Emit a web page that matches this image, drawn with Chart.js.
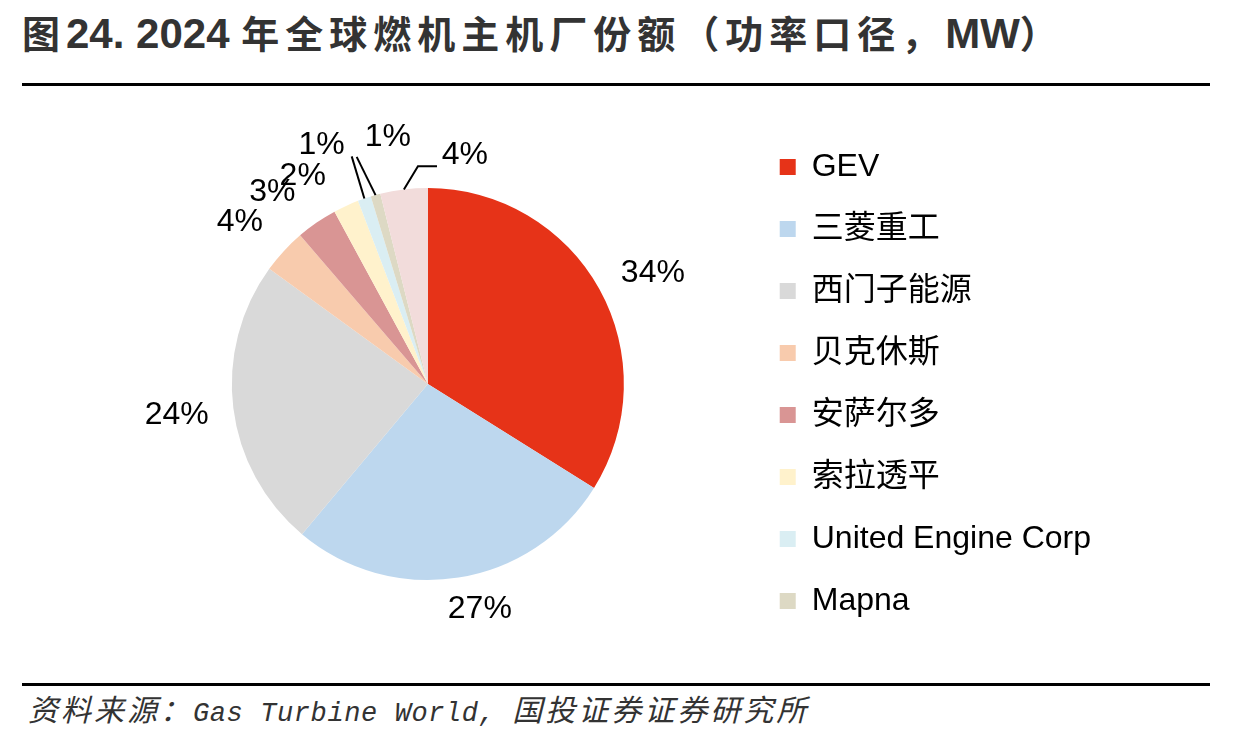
<!DOCTYPE html>
<html>
<head>
<meta charset="utf-8">
<script src="https://cdn.jsdelivr.net/npm/chart.js@4/dist/chart.umd.min.js"></script>
<style>
  body { margin: 0; background: #fff; }
  #page { position: relative; width: 1236px; height: 739px; overflow: hidden; }
  #title {
    position: absolute; left: 22px; top: 4px;
    color: #333; white-space: nowrap;
  }
  #title .cjk { font: bold 38px "Noto Sans CJK SC", sans-serif; letter-spacing: 6px; }
  #title .lat { font: bold 42px "Liberation Sans", sans-serif; }
  .rule { position: absolute; left: 22px; width: 1188px; height: 3px; background: #000; }
  #source {
    position: absolute; left: 28px; top: 686px;
    color: #333; white-space: nowrap;
  }
  #source .cjk { font: italic 30px "Noto Sans CJK SC", sans-serif; letter-spacing: 3px; }
  #source .lat { font: italic 27px "Liberation Mono", monospace; letter-spacing: 0.6px; }
  #wrap { position: absolute; left: 0; top: 99px; width: 1236px; height: 570px; }
</style>
</head>
<body>
<div id="page">
  <div id="title"><span class="cjk">图</span><span class="lat">24. 2024 </span><span class="cjk">年全球燃机主机厂份额（功率口径，</span><span class="lat">MW</span><span class="cjk">）</span></div>
  <div class="rule" style="top:83px"></div>
  <div id="wrap"><canvas id="pieChart"></canvas></div>
  <div class="rule" style="top:683px"></div>
  <div id="source"><span class="cjk">资料来源：</span><span class="lat">Gas Turbine World, </span><span class="cjk">国投证券证券研究所</span></div>
</div>
<script>
// 数据
const companies = ['GEV', '三菱重工', '西门子能源', '贝克休斯', '安萨尔多', '索拉透平', 'United Engine Corp', 'Mapna', '其他'];
const shares = [33.9, 27.2, 23.9, 3.7, 3.4, 2.1, 1.1, 0.8, 3.9];
const colors = ['#E63318', '#BDD7EE', '#D9D9D9', '#F8CBAD', '#D99594', '#FFF2CC', '#DAEEF3', '#DDD9C4', '#F2DCDB'];

// 标签位置（角度从12点顺时针，距圆心像素）
const labelPos = [[63.7, 251], [167, 231], [263, 253], [310.7, 248], [321, 247], [329, 243], [336, 261], [350.8, 250], [9.2, 232]];
// 引导线折点
const leaders = [null, null, null, null, null, null, [[341.5, 240]], [[342.6, 238]], [[357.4, 218], [2.4, 218]]];

const total = shares.reduce((a, b) => a + b, 0);

function polar(cx, cy, deg, r) {
    const a = (deg - 90) * Math.PI / 180;
    return [cx + r * Math.cos(a), cy + r * Math.sin(a)];
}

const outsideLabels = {
    id: 'outsideLabels',
    afterDatasetsDraw(chart) {
        const ctx = chart.ctx;
        const meta = chart.getDatasetMeta(0);
        ctx.save();
        ctx.fillStyle = '#000';
        ctx.strokeStyle = '#000';
        ctx.lineWidth = 2;
        ctx.font = '32px "Liberation Sans", Arial, sans-serif';
        ctx.textAlign = 'center';
        ctx.textBaseline = 'middle';
        meta.data.forEach((arc, i) => {
            const cx = arc.x, cy = arc.y;
            if (leaders[i]) {
                const mid = ((arc.startAngle + arc.endAngle) / 2) * 180 / Math.PI + 90;
                const start = polar(cx, cy, mid, arc.outerRadius);
                ctx.beginPath();
                ctx.moveTo(start[0], start[1]);
                leaders[i].forEach(p => {
                    const q = polar(cx, cy, p[0], p[1]);
                    ctx.lineTo(q[0], q[1]);
                });
                ctx.stroke();
            }
            const pos = polar(cx, cy, labelPos[i][0], labelPos[i][1]);
            ctx.fillText(Math.round(shares[i] / total * 100) + '%', pos[0], pos[1]);
        });
        ctx.restore();
    }
};

new Chart(document.getElementById('pieChart'), {
    type: 'pie',
    data: {
        labels: companies,
        datasets: [{
            data: shares,
            backgroundColor: colors,
            borderWidth: 0
        }]
    },
    options: {
        responsive: true,
        maintainAspectRatio: false,
        animation: false,
        devicePixelRatio: 1,
        radius: 196,
        layout: { padding: { left: 106, right: 135 } },
        plugins: {
            tooltip: { enabled: false },
            legend: {
                position: 'right',
                labels: {
                    boxWidth: 16,
                    boxHeight: 16,
                    padding: 30,
                    color: '#000',
                    font: { size: 32, family: '"Liberation Sans", "Noto Sans CJK SC", sans-serif' },
                    filter: item => item.text !== '其他'
                }
            }
        }
    },
    plugins: [outsideLabels]
});
</script>
</body>
</html>
